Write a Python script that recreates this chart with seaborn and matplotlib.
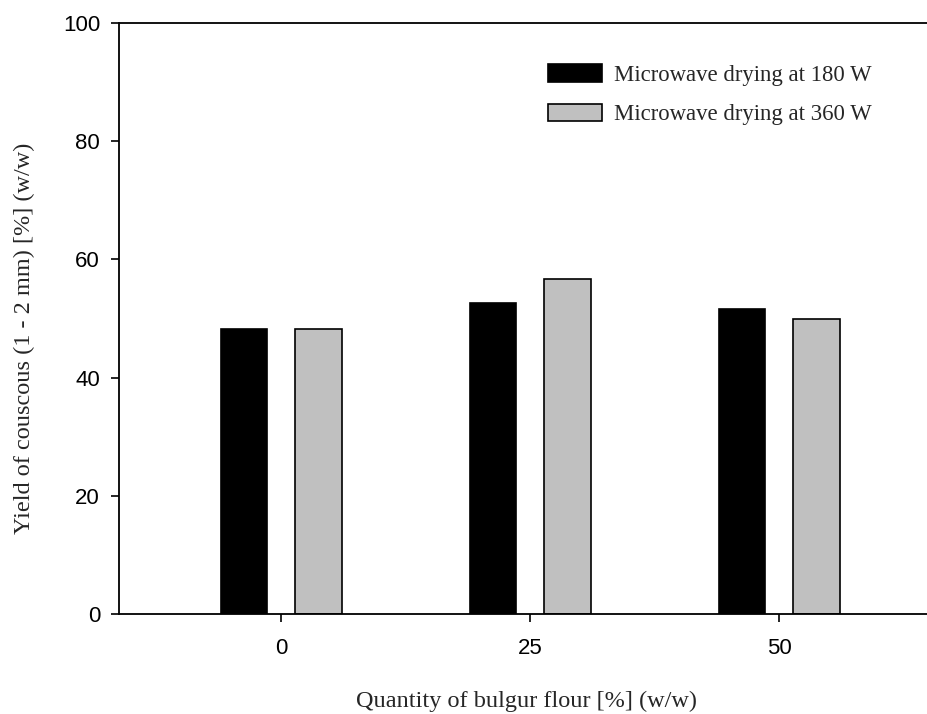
import matplotlib
matplotlib.use("Agg")
import matplotlib.pyplot as plt
import seaborn as sns
import pandas as pd

# Couscous yield (1-2 mm fraction) by bulgur flour level and microwave power
bulgur_levels = ["0", "25", "50"]
series_names = ["Microwave drying at 180 W", "Microwave drying at 360 W"]
yield_180w = [48.3, 52.7, 51.6]
yield_360w = [48.2, 56.6, 49.9]
y_ticks = [0, 20, 40, 60, 80, 100]

df = pd.DataFrame({
    "level": bulgur_levels * 2,
    "series": [series_names[0]] * 3 + [series_names[1]] * 3,
    "yield": yield_180w + yield_360w,
})

sns.set_style("ticks")
plt.rcParams["font.family"] = ["Liberation Sans", "DejaVu Sans"]

W, H = 928, 714
fig = plt.figure(figsize=(W / 100, H / 100), dpi=100)
ax_left, ax_bottom, ax_top = 119.5, 614, 23
ax = fig.add_axes([ax_left / W, (H - ax_bottom) / H, 1 - ax_left / W, (ax_bottom - ax_top) / H])

sns.barplot(
    data=df, x="level", y="yield", hue="series", order=bulgur_levels,
    hue_order=series_names, palette=["#000000", "#c0c0c0"],
    width=0.6, gap=0.38, edgecolor="black", linewidth=1.2,
    errorbar=None, ax=ax,
)

ax.set_ylim(0, 100)
ax.set_yticks(y_ticks)
ax.set_xlim(-0.6486, 2.598)

for side in ["left", "bottom", "top"]:
    ax.spines[side].set_visible(True)
    ax.spines[side].set_linewidth(1.3)
    ax.spines[side].set_color("black")
ax.spines["right"].set_visible(False)

ax.tick_params(axis="y", direction="out", length=6, width=1.2, pad=8,
               labelsize=16, colors="black", right=False)
ax.tick_params(axis="x", direction="out", length=6, width=1.2, pad=11,
               labelsize=16, colors="black", top=False)

serif = ["Liberation Serif", "DejaVu Serif"]
ax.set_xlabel("Quantity of bulgur flour [%] (w/w)", fontsize=17.5, family=serif)
ax.xaxis.set_label_coords(0.503, -0.166)
ax.xaxis.label.set_va("bottom")

ax.set_ylabel("Yield of couscous (1 - 2 mm) [%] (w/w)", fontsize=17.5, family=serif)
ax.yaxis.set_label_coords(-0.118, 0.135)
ax.yaxis.label.set_ha("left")
ax.yaxis.label.set_va("center")

leg = ax.legend(
    loc="upper left", bbox_to_anchor=(548 / W, 1 - 64 / H),
    bbox_transform=fig.transFigure, frameon=False, borderpad=0,
    borderaxespad=0, handlelength=2.35, handleheight=0.82,
    handletextpad=0.55, labelspacing=0.78,
    prop={"family": serif, "size": 16.4},
)

fig.savefig("out.png", dpi=100, facecolor="white")
